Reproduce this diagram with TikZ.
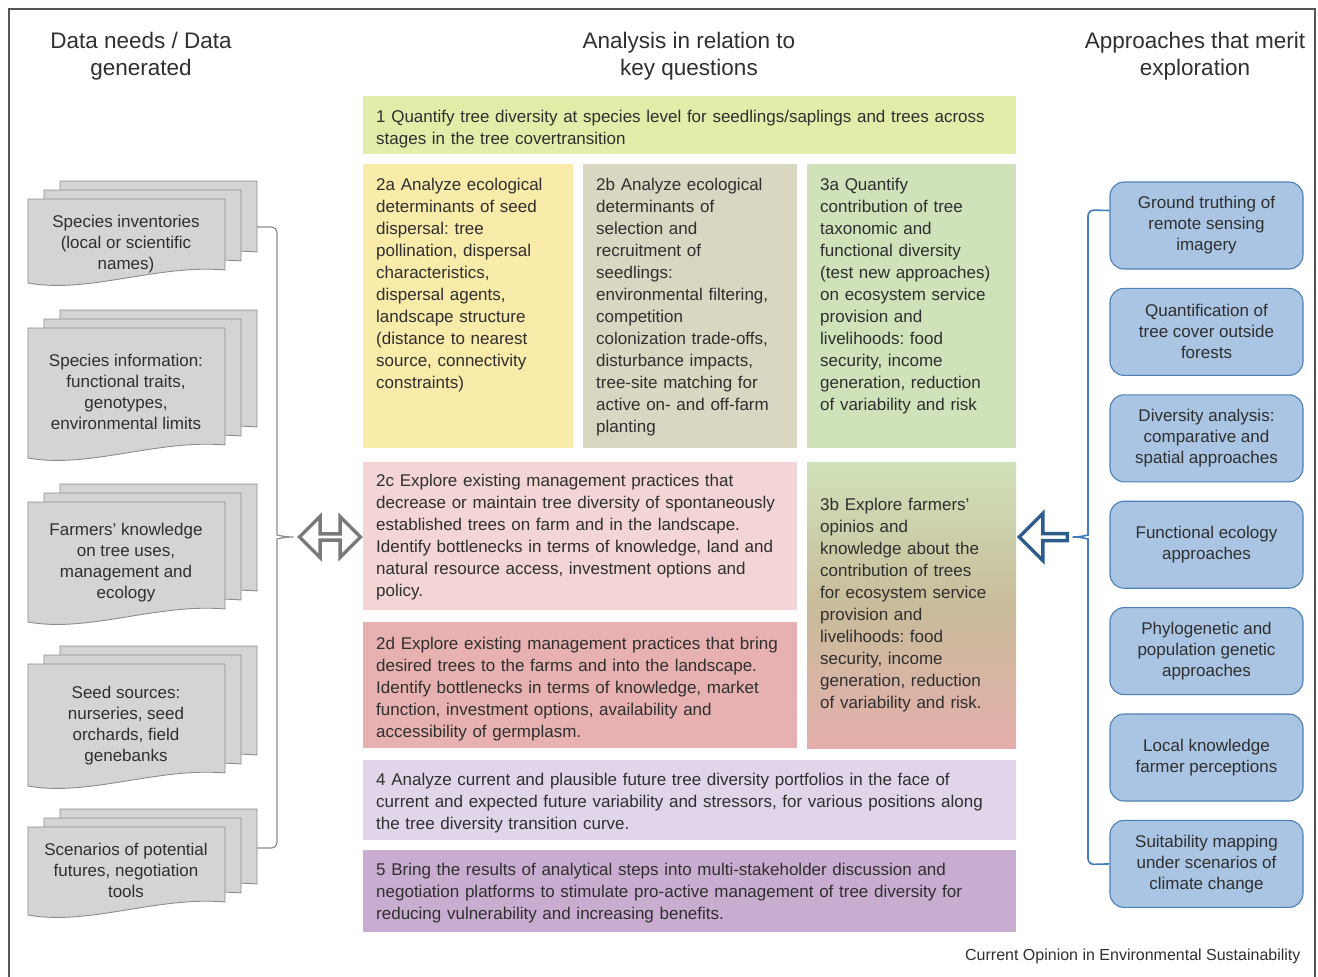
\documentclass[tikz,border=0pt]{standalone}
\usepackage{fontspec}
\setmainfont{Liberation Sans}
\frenchspacing
\usetikzlibrary{positioning,shapes.arrows}

\definecolor{txtgrey}{HTML}{2F2F2F}
\definecolor{framegrey}{HTML}{555555}
\definecolor{cone}{HTML}{E3ECA9}
\definecolor{ctwoa}{HTML}{F9EBA9}
\definecolor{ctwob}{HTML}{D9D6C2}
\definecolor{cthreea}{HTML}{CFE2BA}
\definecolor{ctwoc}{HTML}{F3D5D5}
\definecolor{ctwod}{HTML}{E8B1B1}
\definecolor{cthreebtop}{HTML}{D0E2BA}
\definecolor{cthreebmid}{HTML}{C8BC9A}
\definecolor{cthreebbot}{HTML}{E4AEAC}
\definecolor{cfour}{HTML}{E1D5E9}
\definecolor{cfive}{HTML}{C9ADD0}
\definecolor{docfill}{HTML}{D4D4D4}
\definecolor{docline}{HTML}{8C8C8C}
\definecolor{apfill}{HTML}{A9C5E3}
\definecolor{apline}{HTML}{4E7FB5}
\definecolor{bracegrey}{HTML}{8C8C8C}
\definecolor{braceblue}{HTML}{3D7CC0}
\definecolor{arrowgrey}{HTML}{7A7A7A}
\definecolor{arrowblue}{HTML}{2E5C8A}

\tikzset{
  heading/.style={align=center, text=txtgrey, font=\fontsize{22.5}{27}\selectfont},
  % box of given height, first baseline #1 below its top
  qbox/.style 2 args={anchor=north west, inner xsep=13pt, inner ysep=0pt, align=left,
    text=txtgrey, font=\fontsize{17}{22}\selectfont,
    text height=#1, text depth=#2-#1},
  docsheet/.style={fill=docfill, draw=docline, line width=0.9pt},
  doctext/.style={align=center, text=txtgrey, font=\fontsize{17}{21}\selectfont},
  approach/.style={rectangle, rounded corners=14pt, fill=apfill, draw=apline,
    line width=1.1pt, minimum width=193pt, minimum height=87pt, align=center,
    text=txtgrey, font=\fontsize{17}{21}\selectfont},
}

\begin{document}
\begin{tikzpicture}[x=1pt,y=-1pt]
\useasboundingbox (0,0) rectangle (1318,977);
\draw[framegrey, line width=1.3pt] (9,977) -- (9,9) -- (1315,9) -- (1315,977);

% column headings
\node[heading] (hdata) at (141,56) {Data needs / Data\\generated};
\node[heading] (hanalysis) at (689,56) {Analysis in relation to\\key questions};
\node[heading] (happroach) at (1195,56) {Approaches that merit\\exploration};

% key questions
\node[qbox={26pt}{58pt}, fill=cone, text width=627pt] (q1) at (363,96)
  {1 Quantify tree diversity at species level for seedlings/saplings and trees across\\
   stages in the tree covertransition};
\node[qbox={26pt}{284pt}, fill=ctwoa, text width=184pt] (q2a) at (363,164)
  {2a Analyze ecological\\determinants of seed\\dispersal: tree\\pollination, dispersal\\
   characteristics,\\dispersal agents,\\landscape structure\\(distance to nearest\\
   source, connectivity\\constraints)};
\node[qbox={26pt}{284pt}, fill=ctwob, text width=188pt] (q2b) at (583,164)
  {2b Analyze ecological\\determinants of\\selection and\\recruitment of\\seedlings:\\
   environmental filtering,\\competition\\colonization trade-offs,\\disturbance impacts,\\
   tree-site matching for\\active on- and off-farm\\planting};
\node[qbox={26pt}{284pt}, fill=cthreea, text width=183pt] (q3a) at (807,164)
  {3a Quantify\\contribution of tree\\taxonomic and\\functional diversity\\
   (test new approaches)\\on ecosystem service\\provision and\\livelihoods: food\\
   security, income\\generation, reduction\\of variability and risk};
\node[qbox={24pt}{148pt}, fill=ctwoc, text width=408pt] (q2c) at (363,462)
  {2c Explore existing management practices that\\
   decrease or maintain tree diversity of spontaneously\\
   established trees on farm and in the landscape.\\
   Identify bottlenecks in terms of knowledge, land and\\
   natural resource access, investment options and\\policy.};
\node[qbox={27pt}{126pt}, fill=ctwod, text width=408pt] (q2d) at (363,622)
  {2d Explore existing management practices that bring\\
   desired trees to the farms and into the landscape.\\
   Identify bottlenecks in terms of knowledge, market\\
   function, investment options, availability and\\
   accessibility of germplasm.};
\node[qbox={48pt}{286pt}, top color=cthreebtop, bottom color=cthreebbot, middle color=cthreebmid,
  text width=183pt] (q3b) at (807,462)
  {3b Explore farmers’\\opinios and\\knowledge about the\\contribution of trees\\
   for ecosystem service\\provision and\\livelihoods: food\\security, income\\
   generation, reduction\\of variability and risk.};
\node[qbox={25pt}{80pt}, fill=cfour, text width=627pt] (q4) at (363,760)
  {4 Analyze current and plausible future tree diversity portfolios in the face of\\
   current and expected future variability and stressors, for various positions along\\
   the tree diversity transition curve.};
\node[qbox={25pt}{82pt}, fill=cfive, text width=627pt] (q5) at (363,850)
  {5 Bring the results of analytical steps into multi-stakeholder discussion and\\
   negotiation platforms to stimulate pro-active management of tree diversity for\\
   reducing vulnerability and increasing benefits.};

% data stacks
\foreach \n/\y/\h/\ty/\txt in {
  1/199/87/244/{Species inventories\\(local or scientific\\names)},
  2/328/133/392/{Species information:\\functional traits,\\genotypes,\\environmental limits},
  3/502/123/563/{Farmers’ knowledge\\on tree uses,\\management and\\ecology},
  4/664/125/726/{Seed sources:\\nurseries, seed\\orchards, field\\genebanks},
  5/827/91/870/{Scenarios of potential\\futures, negotiation\\tools}} {
  \foreach \dx/\dy in {32/-18,16/-9,0/0}
    \path[docsheet, shift={(28+\dx,\y+\dy)}] (0,0) -- (197,0) -- (197,\h-16)
      .. controls (130,\h-22) and (60,\h+8) .. (0,\h-3) -- cycle;
  \node[doctext] (d\n) at (126,\ty) {\txt};
}
\coordinate (s1) at (257,227);
\coordinate (s5) at (257,848);

% approaches
\node[approach] (r1) at (1206.5,225.5) {Ground truthing of\\remote sensing\\imagery};
\node[approach, below=18.3pt of r1] (r2) {Quantification of\\tree cover outside\\forests};
\node[approach, below=18.3pt of r2] (r3) {Diversity analysis:\\comparative and\\spatial approaches};
\node[approach, below=18.3pt of r3] (r4) {Functional ecology\\approaches};
\node[approach, below=18.3pt of r4] (r5) {Phylogenetic and\\population genetic\\approaches};
\node[approach, below=18.3pt of r5] (r6) {Local knowledge\\farmer perceptions};
\node[approach, below=18.3pt of r6] (r7) {Suitability mapping\\under scenarios of\\climate change};

% arrows
\node[double arrow, draw=arrowgrey, fill=white, line width=3.5pt, inner sep=0pt,
  minimum height=61pt, minimum width=41pt, double arrow head extend=10pt] (dbl) at (330,537) {};
\node[single arrow, shape border rotate=180, draw=arrowblue, fill=white, line width=3.5pt,
  inner sep=0pt, minimum height=48pt, minimum width=47pt, single arrow head extend=10pt] (arr) at (1045,537) {};

% braces
\draw[bracegrey, line width=1.2pt, rounded corners=6pt] (s1) -- (277,227) -- (277,529)
  .. controls (277,535) and (285,537) .. (dbl.west)
  .. controls (285,537) and (277,539) .. (277,545) -- (277,848) -- (s5);
\draw[braceblue, line width=1.6pt, rounded corners=6pt] ([yshift=15pt]r1.west) -- (1088,210) -- (1088,529)
  .. controls (1088,535) and (1080,537) .. (arr.tail)
  .. controls (1080,537) and (1088,539) .. (1088,545) -- (1088,864.5) -- (r7.west);

\node[anchor=east, text=txtgrey, font=\fontsize{16}{19}\selectfont] (caption) at (1304,956)
  {Current Opinion in Environmental Sustainability};
\end{tikzpicture}
\end{document}
